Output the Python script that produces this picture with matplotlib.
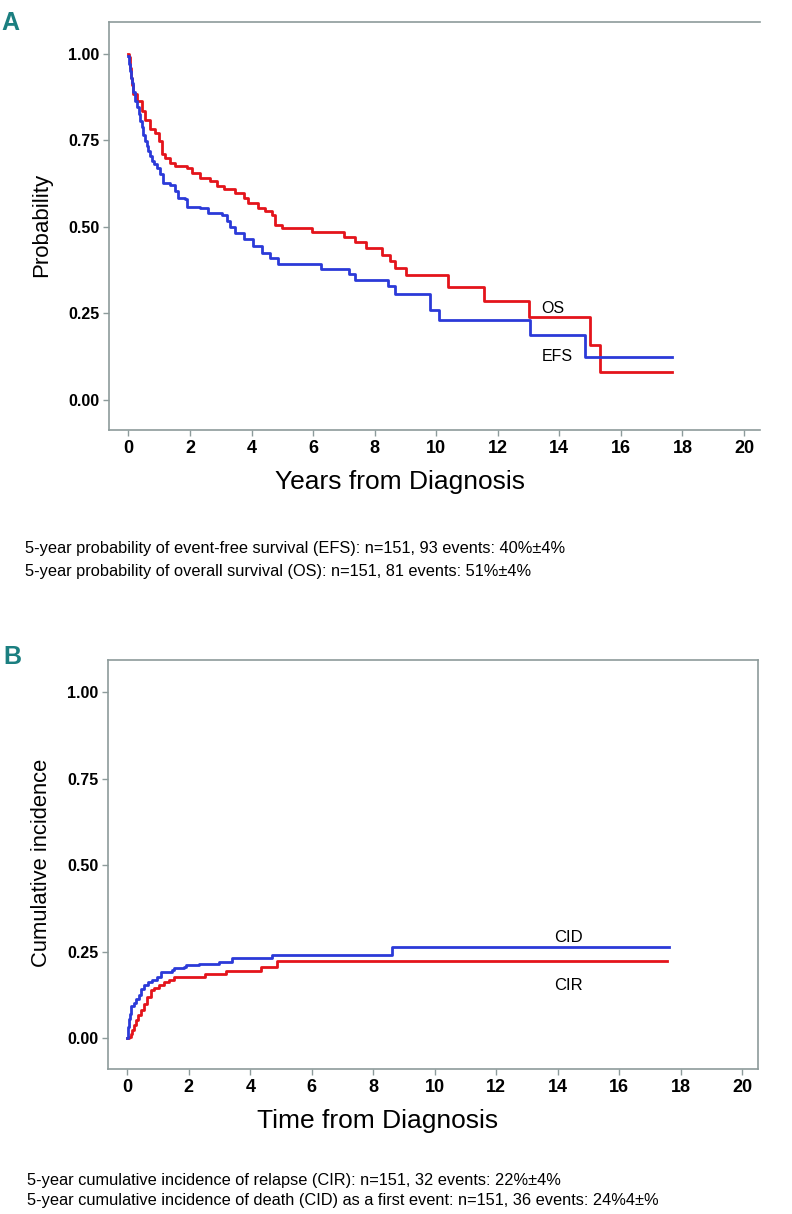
import matplotlib
matplotlib.use("Agg")
import matplotlib.pyplot as plt
from matplotlib import font_manager

# --- data (step curves, value after each event) ---
os_t = [0, 0.03, 0.06, 0.09, 0.12, 0.16, 0.27, 0.43, 0.54, 0.70, 0.87, 0.98,
        1.08, 1.19, 1.36, 1.52, 1.90, 2.06, 2.33, 2.66, 2.87, 3.09, 3.47, 3.74,
        3.90, 4.22, 4.44, 4.66, 4.77, 4.98, 5.96, 6.99, 7.37, 7.73, 8.23, 8.50,
        8.65, 9.03, 10.38, 11.56, 13.03, 15.00, 15.31, 17.66]
os_v = [1.00, 0.99, 0.96, 0.93, 0.91, 0.883, 0.864, 0.835, 0.81, 0.782, 0.772,
        0.748, 0.709, 0.70, 0.685, 0.675, 0.671, 0.656, 0.642, 0.632, 0.617,
        0.608, 0.598, 0.584, 0.569, 0.555, 0.545, 0.535, 0.506, 0.497, 0.484,
        0.47, 0.455, 0.437, 0.417, 0.40, 0.38, 0.359, 0.325, 0.284, 0.238,
        0.157, 0.079, 0.079]

efs_t = [0, 0.03, 0.06, 0.09, 0.11, 0.16, 0.22, 0.27, 0.33, 0.38, 0.43, 0.49,
         0.54, 0.60, 0.65, 0.71, 0.76, 0.84, 0.92, 1.03, 1.14, 1.36, 1.52, 1.62,
         1.84, 1.90, 2.33, 2.60, 3.04, 3.20, 3.31, 3.47, 3.74, 4.06, 4.34, 4.60,
         4.87, 6.25, 7.18, 7.37, 8.45, 8.65, 9.80, 10.08, 13.06, 14.84, 17.66]
efs_v = [0.994, 0.97, 0.95, 0.93, 0.915, 0.89, 0.864, 0.845, 0.825, 0.805,
         0.787, 0.765, 0.748, 0.733, 0.719, 0.705, 0.69, 0.68, 0.671, 0.651,
         0.627, 0.622, 0.603, 0.584, 0.579, 0.557, 0.553, 0.54, 0.535, 0.516,
         0.50, 0.482, 0.463, 0.443, 0.424, 0.41, 0.392, 0.379, 0.363, 0.347,
         0.328, 0.306, 0.26, 0.231, 0.188, 0.123, 0.123]

cid_t = [0, 0.03, 0.06, 0.08, 0.11, 0.22, 0.27, 0.38, 0.43, 0.54, 0.68, 0.81,
         0.97, 1.08, 1.46, 1.52, 1.84, 1.90, 2.33, 2.98, 3.41, 4.71, 8.61, 17.63]
cid_v = [0, 0.034, 0.055, 0.072, 0.093, 0.101, 0.115, 0.125, 0.144, 0.154,
         0.163, 0.168, 0.178, 0.192, 0.197, 0.202, 0.207, 0.212, 0.214, 0.221,
         0.231, 0.24, 0.264, 0.264]

cir_t = [0, 0.05, 0.11, 0.16, 0.22, 0.27, 0.33, 0.43, 0.54, 0.65, 0.76, 0.87,
         1.03, 1.19, 1.36, 1.52, 2.53, 3.20, 4.34, 4.87, 17.55]
cir_v = [0, 0.005, 0.014, 0.025, 0.038, 0.052, 0.067, 0.082, 0.099, 0.12,
         0.141, 0.147, 0.154, 0.163, 0.17, 0.178, 0.186, 0.195, 0.207, 0.224,
         0.224]

x_ticks = list(range(0, 21, 2))
y_ticks = [0.0, 0.25, 0.5, 0.75, 1.0]

RED = "#e4141b"
BLUE = "#2b3ad8"
SPINE = "#8d9b9b"
TEAL = "#1b7f80"

installed = {f.name for f in font_manager.fontManager.ttflist}
NARROW = "Liberation Sans Narrow" if "Liberation Sans Narrow" in installed else (
    "DejaVu Sans Condensed" if "DejaVu Sans Condensed" in installed else "Liberation Sans")
ARIAL = "Liberation Sans"

fig = plt.figure(figsize=(7.92, 12.14), dpi=100)
W, H = 792, 1214


def px_axes(left, top, right, bottom):
    return fig.add_axes([left / W, 1 - bottom / H, (right - left) / W, (bottom - top) / H])


def style(ax, ylab_font, right_spine):
    ax.set_xlim(-0.63, 20.52)
    ax.set_ylim(-0.088, 1.092)
    ax.set_xticks(x_ticks)
    ax.set_yticks(y_ticks)
    ax.set_yticklabels([f"{v:.2f}" for v in y_ticks])
    for s in ax.spines.values():
        s.set_color(SPINE)
        s.set_linewidth(1.2)
    ax.spines["right"].set_visible(right_spine)
    ax.tick_params(direction="out", length=4, width=1, color=SPINE, pad=3)
    for lab in ax.get_xticklabels():
        lab.set_fontfamily(NARROW)
        lab.set_fontweight("bold")
        lab.set_fontsize(13)
    for lab in ax.get_yticklabels():
        lab.set_fontfamily(ylab_font)
        lab.set_fontweight("bold")
        lab.set_fontsize(11.5 if ylab_font == ARIAL else 13)


# Panel A
axA = px_axes(109, 22, 760, 430)
axA.step(os_t, os_v, where="post", color=RED, lw=2)
axA.step(efs_t, efs_v, where="post", color=BLUE, lw=2)
style(axA, ARIAL, False)
axA.text(13.8, 0.264, "OS", fontsize=11.5, family=ARIAL, ha="center", va="center")
axA.text(13.93, 0.126, "EFS", fontsize=11.5, family=ARIAL, ha="center", va="center")

# Panel B
axB = px_axes(108, 660, 758, 1069)
axB.step(cir_t, cir_v, where="post", color=RED, lw=2)
axB.step(cid_t, cid_v, where="post", color=BLUE, lw=2)
style(axB, NARROW, True)
axB.text(14.36, 0.292, "CID", fontsize=12, family=NARROW, ha="center", va="center")
axB.text(14.36, 0.153, "CIR", fontsize=12, family=NARROW, ha="center", va="center")

# panel letters
fig.text(10 / W, 1 - 23 / H, "A", color=TEAL, fontsize=18, fontweight="bold",
         family=NARROW, ha="center", va="center")
fig.text(12 / W, 1 - 657 / H, "B", color=TEAL, fontsize=18, fontweight="bold",
         family=NARROW, ha="center", va="center")

# axis labels
fig.text(400 / W, 1 - 482 / H, "Years from Diagnosis", fontsize=19, family=NARROW,
         ha="center", va="center")
fig.text(42 / W, 1 - 225 / H, "Probability", fontsize=16, family=ARIAL,
         rotation=90, ha="center", va="center")
fig.text(378 / W, 1 - 1121 / H, "Time from Diagnosis", fontsize=19, family=NARROW,
         ha="center", va="center")
fig.text(42 / W, 1 - 863 / H, "Cumulative incidence", fontsize=15.8, family=ARIAL,
         rotation=90, ha="center", va="center")

# footnotes
notes_a = ["5-year probability of event-free survival (EFS): n=151, 93 events: 40%\u00b14%",
           "5-year probability of overall survival (OS): n=151, 81 events: 51%\u00b14%"]
notes_b = ["5-year cumulative incidence of relapse (CIR): n=151, 32 events: 22%\u00b14%",
           "5-year cumulative incidence of death (CID) as a first event: n=151, 36 events: 24%4\u00b1%"]
for i, t in enumerate(notes_a):
    fig.text(25 / W, 1 - (549 + 22 * i) / H, t, fontsize=11.8, family=NARROW,
             ha="left", va="center")
for i, t in enumerate(notes_b):
    fig.text(27 / W, 1 - (1180 + 21 * i) / H, t, fontsize=11.8, family=NARROW,
             ha="left", va="center")

fig.savefig("out.png", dpi=100)
